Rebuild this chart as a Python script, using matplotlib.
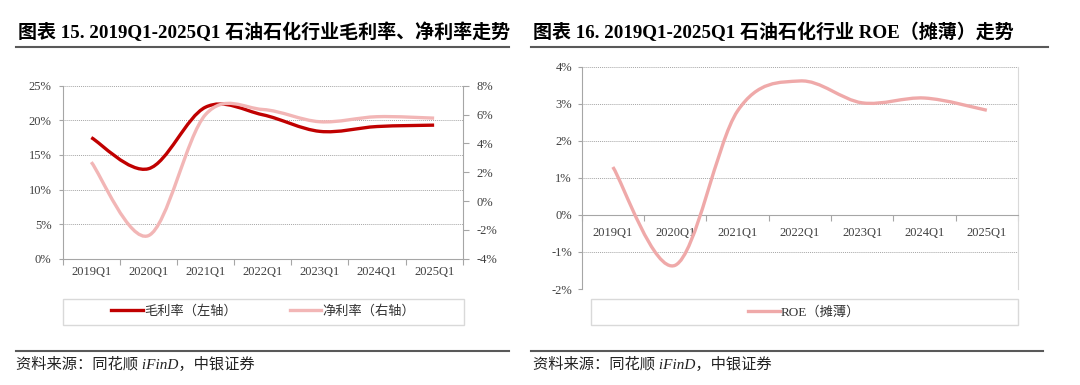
import matplotlib
matplotlib.use('Agg')
import matplotlib.pyplot as plt
from matplotlib.path import Path
from matplotlib.patches import PathPatch, Rectangle
from matplotlib.lines import Line2D
from matplotlib.ticker import FuncFormatter

plt.rcParams['font.family'] = ['Liberation Serif', 'Noto Sans CJK SC']

# data
quarters = ['2019Q1', '2020Q1', '2021Q1', '2022Q1', '2023Q1', '2024Q1', '2025Q1']
gross_margin = [17.5, 13.0, 21.9, 20.8, 18.4, 19.1, 19.3]   # left axis, %
net_margin = [2.7, -2.4, 6.0, 6.35, 5.5, 5.85, 5.75]        # right axis, %
roe = [1.29, -1.36, 2.8, 3.61, 3.02, 3.15, 2.82]            # %

red = '#C00000'
pink_l = '#F2B6B6'
pink_r = '#EFA9A9'
axis_gray = '#A6A6A6'
text_gray = '#404040'
cjk = ['Liberation Serif', 'Noto Sans CJK SC']
tick_fs = 9


def smooth_path(x, y):
    # excel style smoothed line: cubic bezier through the points
    n = len(x)
    verts = [(x[0], y[0])]
    codes = [Path.MOVETO]
    for i in range(n - 1):
        a = i - 1 if i > 0 else i
        d = i + 2 if i + 2 < n else i + 1
        c1 = (x[i] + (x[i + 1] - x[a]) / 6, y[i] + (y[i + 1] - y[a]) / 6)
        c2 = (x[i + 1] - (x[d] - x[i]) / 6, y[i + 1] - (y[d] - y[i]) / 6)
        verts += [c1, c2, (x[i + 1], y[i + 1])]
        codes += [Path.CURVE4] * 3
    return Path(verts, codes)


def pct(v, pos):
    return '%d%%' % round(v)


def cat_axis(ax, pad):
    n = len(quarters)
    ax.set_xlim(-0.5, n - 0.5)
    ax.set_xticks([i - 0.5 for i in range(n + 1)])
    ax.set_xticklabels([])
    ax.set_xticks(range(n), minor=True)
    ax.set_xticklabels(quarters, minor=True)
    ax.tick_params(axis='x', which='major', direction='out', length=4, color=axis_gray)
    ax.tick_params(axis='x', which='minor', length=0, pad=pad, labelsize=tick_fs, labelcolor=text_gray)


fig = plt.figure(figsize=(10.8, 3.85), dpi=100)

# ========================================================
# left chart: gross / net margin
ax = fig.add_axes([62.7 / 1080, 1 - 258.7 / 385, 400 / 1080, 173 / 385])
ax2 = ax.twinx()
xs = list(range(len(quarters)))

ax.set_ylim(0, 25)
ax.set_yticks([0, 5, 10, 15, 20, 25])
ax2.set_ylim(-4, 8)
ax2.set_yticks([-4, -2, 0, 2, 4, 6, 8])
ax.yaxis.set_major_formatter(FuncFormatter(pct))
ax2.yaxis.set_major_formatter(FuncFormatter(pct))
ax.grid(axis='y', color=axis_gray, lw=0.7, linestyle=(0, (1, 1)))
ax.set_axisbelow(True)
cat_axis(ax, 5)

for a in (ax, ax2):
    for s in a.spines.values():
        s.set_color(axis_gray)
    a.spines['top'].set_visible(False)
ax.spines['right'].set_visible(False)
ax2.spines['left'].set_visible(False)
ax2.spines['bottom'].set_visible(False)
ax.tick_params(axis='y', length=3, color=axis_gray, pad=5, labelsize=tick_fs, labelcolor=text_gray)
ax2.tick_params(axis='y', length=4, color=axis_gray, pad=6, labelsize=tick_fs, labelcolor=text_gray)

ax2.add_patch(PathPatch(smooth_path(xs, net_margin), fill=False, edgecolor=pink_l, lw=2.4,
                        capstyle='butt', zorder=3))
ax.add_patch(PathPatch(smooth_path(xs, gross_margin), fill=False, edgecolor=red, lw=2.4,
                       capstyle='butt', zorder=4))

# ========================================================
# right chart: ROE
axr = fig.add_axes([581.7 / 1080, 1 - 289 / 385, 436.3 / 1080, 222.5 / 385])
axr.set_ylim(-2, 4)
axr.set_yticks([-2, -1, 0, 1, 2, 3, 4])
axr.yaxis.set_major_formatter(FuncFormatter(pct))
axr.grid(axis='y', color=axis_gray, lw=0.7, linestyle=(0, (1, 1)))
axr.set_axisbelow(True)
cat_axis(axr, 9)
axr.spines['bottom'].set_position(('data', 0))
axr.spines['top'].set_visible(False)
axr.spines['left'].set_color(axis_gray)
axr.spines['bottom'].set_color(axis_gray)
axr.spines['right'].set_color('#D9D9D9')
axr.tick_params(axis='y', length=3, color=axis_gray, pad=4, labelsize=tick_fs, labelcolor=text_gray)
axr.add_patch(PathPatch(smooth_path(xs, roe), fill=False, edgecolor=pink_r, lw=2.4,
                        capstyle='butt', zorder=3))

# ========================================================
# legends in light boxes
W, H = 1080.0, 385.0


def box(x0, x1, y0, y1):
    fig.patches.append(Rectangle((x0 / W, 1 - y1 / H), (x1 - x0) / W, (y1 - y0) / H,
                                 transform=fig.transFigure, fill=False,
                                 edgecolor='#D9D9D9', lw=1.0))


box(62.7, 464, 299, 324.5)
box(591, 1017.6, 299, 325)

h1 = [Line2D([], [], color=red, lw=2.4), Line2D([], [], color=pink_l, lw=2.4)]
fig.legend(h1, ['毛利率（左轴）', '净利率（右轴）'], loc='center',
           bbox_to_anchor=((62.7 + 464) / 2 / W, 1 - 311.7 / H), ncol=2, frameon=False,
           handlelength=2.4, handletextpad=0.1, columnspacing=4.0,
           prop={'family': cjk, 'size': 9.5}, labelcolor='#333333')
h2 = [Line2D([], [], color=pink_r, lw=2.4)]
fig.legend(h2, ['ROE（摊薄）'], loc='center',
           bbox_to_anchor=((591 + 1017.6) / 2 / W, 1 - 312 / H), frameon=False,
           handlelength=2.4, handletextpad=0.1, prop={'family': cjk, 'size': 9.5},
           labelcolor='#333333')

# ========================================================
# titles, rules and sources
fig.text(18 / W, 1 - 32 / H, '图表 15. 2019Q1-2025Q1 石油石化行业毛利率、净利率走势',
         family=cjk, fontsize=13.7, fontweight='bold', va='center', ha='left')
fig.text(533 / W, 1 - 32 / H, '图表 16. 2019Q1-2025Q1 石油石化行业 ROE（摊薄）走势',
         family=cjk, fontsize=13.7, fontweight='bold', va='center', ha='left')

for x0, x1 in [(16, 509), (531, 1048)]:
    fig.lines.append(Line2D([x0 / W, x1 / W], [1 - 47 / H] * 2, transform=fig.transFigure,
                            color='#595959', lw=1.5))
for x0, x1 in [(16, 509), (531, 1043)]:
    fig.lines.append(Line2D([x0 / W, x1 / W], [1 - 351 / H] * 2, transform=fig.transFigure,
                            color='#595959', lw=1.5))

for x0 in (16, 533):
    fig.text(x0 / W, 1 - 364.5 / H, '资料来源：同花顺 iFinD，中银证券', family=cjk,
             fontsize=11, style='italic', va='center', ha='left', color='#222222')

fig.savefig('out.png', dpi=100)
